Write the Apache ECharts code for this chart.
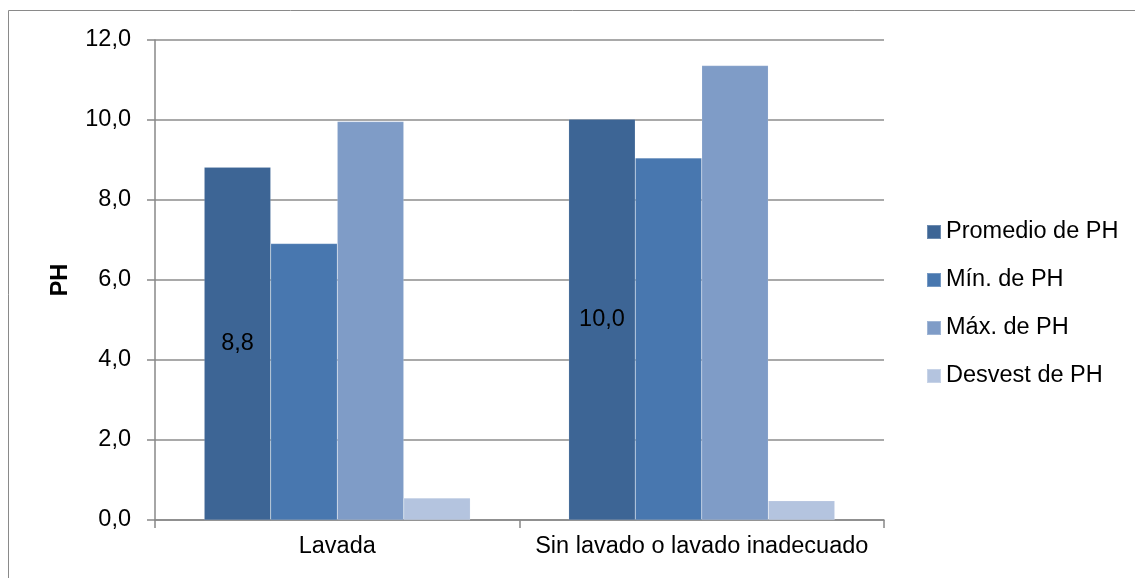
<!DOCTYPE html>
<html>
<head>
<meta charset="utf-8">
<script src="https://cdn.jsdelivr.net/npm/echarts@6/dist/echarts.min.js"></script>
<style>html,body{margin:0;padding:0;background:#fff;}#c{width:1135px;height:578px;}</style>
</head>
<body>
<div id="c"></div>
<script>
const categories = ['Lavada', 'Sin lavado o lavado inadecuado'];
const seriesNames = ['Promedio de PH', 'Mín. de PH', 'Máx. de PH', 'Desvest de PH'];
const promedio = [8.82, 10.02];
const minimo = [6.91, 9.05];
const maximo = [9.96, 11.36];
const desvest = [0.55, 0.48];
const colors = ['#3D6595', '#4877AF', '#7F9CC7', '#B4C4DF'];
const yTicks = { min: 0, max: 12, interval: 2 };

const FONT = 'Liberation Sans';
const FS = 23.5;
const fmt = v => Number(v).toFixed(1).replace('.', ',');

const chart = echarts.init(document.getElementById('c'));
const data = [promedio, minimo, maximo, desvest];
chart.setOption({
  animation: false,
  textStyle: { fontFamily: FONT },
  graphic: [{
    type: 'rect', silent: true,
    shape: { x: 8.5, y: 10.5, width: 1300, height: 800 },
    style: { fill: 'none', stroke: '#8a8a8a', lineWidth: 1 }
  }],
  grid: { left: 155, right: 251, top: 40, bottom: 58 },
  legend: {
    orient: 'vertical', left: 921, top: 215,
    itemWidth: 14, itemHeight: 14, itemGap: 24,
    icon: 'rect',
    textStyle: { fontFamily: FONT, fontSize: FS, color: '#000', lineHeight: 24 },
    data: seriesNames
  },
  xAxis: {
    type: 'category', data: categories,
    axisLine: { lineStyle: { color: '#888', width: 1.5 } },
    axisTick: { show: true, length: 8, lineStyle: { color: '#888', width: 1.5 } },
    axisLabel: { color: '#000', fontSize: FS, fontFamily: FONT, margin: 15, interval: 0 }
  },
  yAxis: {
    type: 'value', min: yTicks.min, max: yTicks.max, interval: yTicks.interval,
    name: 'PH', nameLocation: 'middle', nameGap: 82, nameRotate: 90,
    nameTextStyle: { fontWeight: 'bold', fontSize: FS, color: '#000', fontFamily: FONT },
    axisLine: { show: true, lineStyle: { color: '#888', width: 1.5 } },
    axisTick: { show: true, length: 8, lineStyle: { color: '#888', width: 1.5 } },
    axisLabel: { color: '#000', fontSize: FS, fontFamily: FONT, margin: 24, formatter: fmt },
    splitLine: { lineStyle: { color: '#8c8c8c', width: 1.5 } }
  },
  series: seriesNames.map((n, i) => ({
    name: n, type: 'bar', data: data[i],
    barGap: '0%', barCategoryGap: '27%',
    itemStyle: { color: colors[i], borderColor: 'rgba(255,255,255,0.25)', borderWidth: 0.5 },
    label: i === 0 ? {
      show: true, position: 'inside', color: '#000', fontSize: FS, fontFamily: FONT,
      formatter: p => fmt(p.value)
    } : { show: false }
  }))
});
</script>
</body>
</html>
